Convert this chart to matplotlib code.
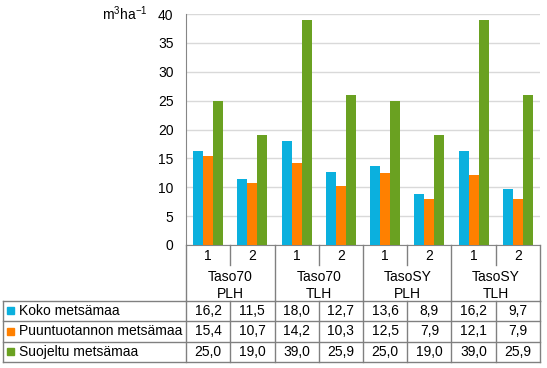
import numpy as np
import matplotlib
matplotlib.use("Agg")
import matplotlib.pyplot as plt
from matplotlib.lines import Line2D
from matplotlib.transforms import blended_transform_factory

plt.rcParams['font.family'] = ['Liberation Sans', 'DejaVu Sans']
plt.rcParams['mathtext.fontset'] = 'custom'
plt.rcParams['mathtext.rm'] = 'Liberation Sans'
plt.rcParams['mathtext.it'] = 'Liberation Sans:italic'

# ---- data ----
sub_labels = ["1", "2", "1", "2", "1", "2", "1", "2"]
group_labels = ["Taso70\nPLH", "Taso70\nTLH", "TasoSY\nPLH", "TasoSY\nTLH"]
series_names = ["Koko metsämaa", "Puuntuotannon metsämaa", "Suojeltu metsämaa"]
koko = [16.2, 11.5, 18.0, 12.7, 13.6, 8.9, 16.2, 9.7]
puuntuotanto = [15.4, 10.7, 14.2, 10.3, 12.5, 7.9, 12.1, 7.9]
suojeltu = [25.0, 19.0, 39.0, 25.9, 25.0, 19.0, 39.0, 25.9]
y_ticks = [0, 5, 10, 15, 20, 25, 30, 35, 40]
unit_label = r"$\mathregular{m^{3}ha^{-1}}$"

colors = ["#0BB0DE", "#FF8000", "#6AA121"]
series = [koko, puuntuotanto, suojeltu]

W, H = 547, 368
fig = plt.figure(figsize=(W / 100, H / 100), dpi=100)
left, right, top, bottom = 186, 540, 14, 245
ax = fig.add_axes([left / W, (H - bottom) / H, (right - left) / W, (bottom - top) / H])

n = len(koko)
x = np.arange(n)
bw = 0.226
for k, (vals, col) in enumerate(zip(series, colors)):
    ax.bar(x + (k - 1) * bw, vals, width=bw, color=col, zorder=3)

ax.set_xlim(-0.5, n - 0.5)
ax.set_ylim(0, 40)
ax.set_yticks(y_ticks)
ax.set_yticklabels([str(t) for t in y_ticks], fontsize=10)
ax.tick_params(axis='y', length=0, pad=9)
ax.set_xticks([])
ax.grid(axis='y', color='#D9D9D9', lw=1, zorder=0)
for s in ['top', 'right']:
    ax.spines[s].set_visible(False)
ax.spines['left'].set_color('#868686')
ax.spines['bottom'].set_color('#868686')

# ---- overlay for table ----
tab = fig.add_axes([0, 0, 1, 1], facecolor='none')
tab.set_autoscale_on(False)
tab.set_xlim(0, W)
tab.set_ylim(H, 0)
tab.axis('off')
bt = blended_transform_factory(ax.transData, tab.transData)
lc = '#808080'

def vline(xd, y0, y1, tr=bt):
    tab.add_line(Line2D([xd, xd], [y0, y1], color=lc, lw=1, transform=tr, clip_on=False))

# category row
for i in range(n):
    tab.text(i, 256.5, sub_labels[i], ha='center', va='center', fontsize=10, transform=bt)
for g in range(n // 2):
    vline(2 * g + 0.5, 245, 265)
    tab.text(2 * g + 0.5, 285.5, group_labels[g], ha='center', va='center', fontsize=10,
             linespacing=1.2, transform=bt)
for g in range(n // 2 + 1):
    vline(2 * g - 0.5, 245, 300.5)

# data table
rows_y = [300.5, 321, 341.5, 362]
tab_left = 3
for yv in rows_y:
    tab.add_line(Line2D([tab_left, right], [yv, yv], color=lc, lw=1, clip_on=False))
tab.add_line(Line2D([tab_left, tab_left], [rows_y[0], rows_y[-1]], color=lc, lw=1, clip_on=False))
for i in range(n + 1):
    vline(i - 0.5, rows_y[0], rows_y[-1])

for r, (name, vals, col) in enumerate(zip(series_names, series, colors)):
    yc = (rows_y[r] + rows_y[r + 1]) / 2
    tab.add_patch(plt.Rectangle((7, yc - 3.5), 7, 7, color=col, clip_on=False))
    tab.text(19, yc, name, ha='left', va='center', fontsize=10)
    for i, v in enumerate(vals):
        tab.text(i, yc, f"{v:.1f}".replace('.', ','), ha='center', va='center',
                 fontsize=10, transform=bt)

# unit label
tab.text(148, 14, unit_label, ha='right', va='center', fontsize=10)

fig.savefig('out.png', dpi=100)
